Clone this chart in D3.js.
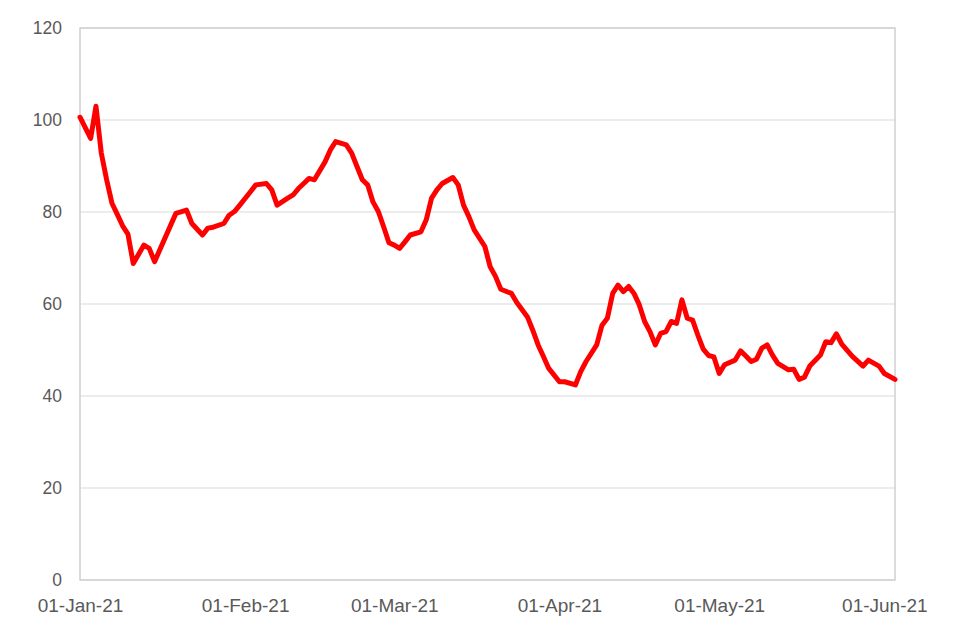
<!DOCTYPE html>
<html>
<head>
<meta charset="utf-8">
<script src="https://cdn.jsdelivr.net/npm/d3@7/dist/d3.min.js"></script>
<style>
  html, body { margin: 0; padding: 0; background: #fff; }
  svg { display: block; font-family: "Liberation Sans", Arial, sans-serif; }
</style>
</head>
<body>
<svg id="chart" width="960" height="640"></svg>
<script>
// Day offsets from 01-Jan-2021 and values
const dayOffsets = [0, 2, 3, 4, 5, 6, 7, 8, 9, 10, 12, 13, 14, 18, 20, 21, 23, 24, 25, 27, 28, 29, 30,
  32, 33, 35, 36, 37, 39, 40, 41, 42, 43, 44, 46, 47, 48, 50, 51, 52, 53, 54, 55, 56, 57, 58, 59, 60,
  61, 62, 64, 65, 66, 67, 68, 70, 71, 72, 73, 74, 76, 77, 78, 79, 81, 82, 84, 85, 86, 87, 88, 90, 91,
  93, 94, 95, 97, 98, 99, 100, 101, 102, 103, 104, 105, 106, 107, 108, 109, 110, 111, 112, 113, 114,
  115, 116, 117, 118, 119, 120, 121, 123, 124, 125, 126, 127, 128, 129, 130, 131, 133, 134, 135, 136,
  137, 139, 140, 141, 142, 143, 145, 147, 148, 150, 151, 153];
const values = [100.6, 96.0, 103.0, 92.8, 87.0, 81.9, 79.5, 77.0, 75.2, 68.8, 72.8, 72.1, 69.2, 79.7, 80.4, 77.5, 75.0, 76.5, 76.7, 77.5, 79.3, 80.1, 81.5,
  84.4, 85.9, 86.2, 84.8, 81.5, 83.0, 83.7, 85.1, 86.2, 87.3, 87.0, 90.9, 93.5, 95.3, 94.6, 92.8, 89.9, 87.0, 85.9, 82.2, 80.1, 76.8, 73.3, 72.8, 72.1,
  73.5, 75.0, 75.7, 78.3, 83.0, 84.8, 86.2, 87.5, 85.9, 81.5, 79.0, 76.1, 72.5, 68.1, 66.0, 63.2, 62.3, 60.3, 57.2, 54.3, 51.1, 48.6, 46.0, 43.1, 43.1,
  42.4, 45.3, 47.5, 51.1, 55.4, 56.9, 62.3, 64.1, 62.7, 63.8, 62.3, 59.8, 56.2, 54.0, 51.1, 53.6, 54.0, 56.2, 55.8, 60.9, 56.9,
  56.5, 53.2, 50.2, 48.8, 48.5, 44.9, 46.8, 47.8, 49.8, 48.7, 47.5, 48.0, 50.4, 51.1, 48.9, 47.1, 45.7, 45.8, 43.6, 44.1,
  46.5, 48.9, 51.8, 51.6, 53.5, 51.3, 48.6, 46.5, 47.8, 46.5, 44.9, 43.6];
const yTicks = [0, 20, 40, 60, 80, 100, 120];
const xTickLabels = ["01-Jan-21", "01-Feb-21", "01-Mar-21", "01-Apr-21", "01-May-21", "01-Jun-21"];

(function () {
  const start = new Date(2021, 0, 1);
  const dates = dayOffsets.map(d => d3.timeDay.offset(start, d));
  const data = dates.map((d, i) => ({ date: d, value: values[i] }));
  const xTickDates = xTickLabels.map(s => d3.timeParse("%d-%b-%y")(s));

  const svg = d3.select("#chart");
  const mLeft = 80, mRight = 895, mTop = 28, mBottom = 580;

  const x = d3.scaleTime()
    .domain([start, d3.timeDay.offset(start, 153)])
    .range([mLeft, mRight]);
  const y = d3.scaleLinear().domain([0, 120]).range([mBottom, mTop]);

  // gridlines
  svg.append("g")
    .selectAll("line")
    .data(yTicks)
    .join("line")
    .attr("x1", mLeft).attr("x2", mRight)
    .attr("y1", d => y(d)).attr("y2", d => y(d))
    .attr("stroke", "#d9d9d9").attr("stroke-width", 1);

  // plot border
  svg.append("rect")
    .attr("x", mLeft).attr("y", mTop)
    .attr("width", mRight - mLeft).attr("height", mBottom - mTop)
    .attr("fill", "none").attr("stroke", "#d0d0d0").attr("stroke-width", 1.5);

  // y axis
  const yAxis = d3.axisLeft(y).tickValues(yTicks).tickSize(0).tickPadding(18);
  const gy = svg.append("g").attr("transform", `translate(${mLeft},0)`).call(yAxis);
  gy.select(".domain").remove();
  gy.selectAll("text")
    .attr("font-size", 17.5).attr("fill", "#595959")
    .attr("font-family", "Liberation Sans, Arial, sans-serif");

  // x axis
  const fmt = d3.timeFormat("%d-%b-%y");
  const xAxis = d3.axisBottom(x).tickValues(xTickDates).tickFormat(fmt).tickSize(0).tickPadding(19);
  const gx = svg.append("g").attr("transform", `translate(0,${mBottom})`).call(xAxis);
  gx.select(".domain").remove();
  gx.selectAll("text")
    .attr("font-size", 19).attr("fill", "#595959")
    .attr("font-family", "Liberation Sans, Arial, sans-serif");

  // line
  const line = d3.line().x(d => x(d.date)).y(d => y(d.value));
  svg.append("path")
    .datum(data)
    .attr("d", line)
    .attr("fill", "none")
    .attr("stroke", "#ff0000")
    .attr("stroke-width", 5)
    .attr("stroke-linejoin", "round")
    .attr("stroke-linecap", "round");
})();
</script>
</body>
</html>
